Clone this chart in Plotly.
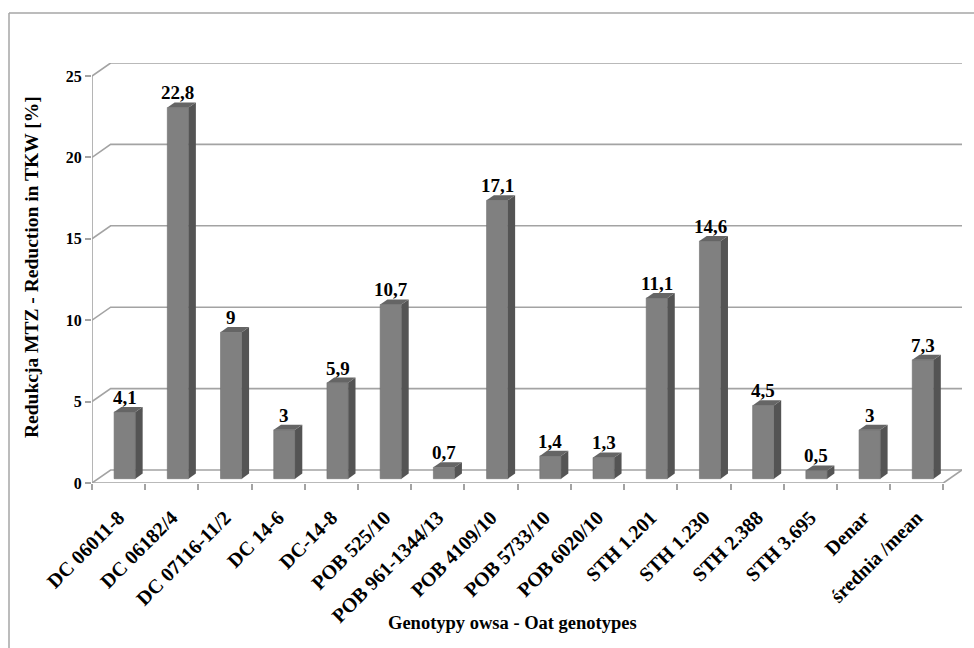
import plotly.graph_objects as go

# Oat genotypes and reduction in thousand-kernel weight (%)
genotypes = ["DC 06011-8", "DC 06182/4", "DC 07116-11/2", "DC 14-6", "DC-14-8",
             "POB 525/10", "POB 961-1344/13", "POB 4109/10", "POB 5733/10",
             "POB 6020/10", "STH 1.201", "STH 1.230", "STH 2.388", "STH 3.695",
             "Denar", "średnia /mean"]
reduction = [4.1, 22.8, 9, 3, 5.9, 10.7, 0.7, 17.1, 1.4, 1.3, 11.1, 14.6, 4.5, 0.5, 3, 7.3]
y_ticks = [0, 5, 10, 15, 20, 25]

FONT = "Times New Roman, Liberation Serif, serif"
GRID = "#a3a3a3"

# pseudo-3D projection: depth shifts points right (DX) and up (DY)
DX, DY = 0.35, 0.80
F0, F1 = 0.33, 0.72      # depth span of each column
BW = 0.40                # column width as fraction of a category

n = len(genotypes)
YMAX = max(y_ticks)

# margins in pixels
L, R, T, B = 92, 12, 63, 165
W, H = 974, 648
PW, PH = W - L - R, H - T - B


def paper_x(px):
    return (px - L) / PW


def paper_y(py):
    return (H - B - py) / PH


fig = go.Figure()


def poly(xs, ys, fill, line=None, width=0):
    fig.add_trace(go.Scatter(
        x=xs + [xs[0]], y=ys + [ys[0]], mode="lines", fill="toself",
        fillcolor=fill, line=dict(color=line or fill, width=width),
        hoverinfo="skip", showlegend=False))


def seg(xs, ys, color=GRID, width=1.6):
    fig.add_trace(go.Scatter(
        x=xs, y=ys, mode="lines", line=dict(color=color, width=width),
        hoverinfo="skip", showlegend=False, cliponaxis=False))


# back wall gridlines and side-wall diagonals
for v in y_ticks:
    seg([0, DX, n + DX], [v, v + DY, v + DY])

# floor front and right edges, value axis line
seg([0, n, n + DX], [0, 0, DY])
seg([0, 0], [0, YMAX])

# columns: front, side and top faces
for i, v in enumerate(reduction):
    xl = i + 0.5 - BW / 2 + F0 * DX
    xr = xl + BW
    y0 = F0 * DY
    ddx, ddy = (F1 - F0) * DX, (F1 - F0) * DY
    poly([xl, xr, xr, xl], [y0, y0, v + y0, v + y0], "#808080", "#6e6e6e", 0.6)
    poly([xr, xr + ddx, xr + ddx, xr], [y0, y0 + ddy, v + y0 + ddy, v + y0], "#545454")
    poly([xl, xr, xr + ddx, xl + ddx], [v + y0, v + y0, v + y0 + ddy, v + y0 + ddy], "#656565")

    label = f"{v:g}".replace(".", ",")
    fig.add_annotation(
        x=i + 0.5 + F0 * DX, y=v + F1 * DY, text=label, showarrow=False,
        xanchor="center", yanchor="bottom", yshift=-3,
        font=dict(family=FONT, size=19, color="#000", weight="bold"))

# axis titles
fig.add_annotation(
    x=paper_x(512), y=paper_y(623), xref="paper", yref="paper",
    text="Genotypy owsa - Oat genotypes", showarrow=False,
    xanchor="center", yanchor="middle",
    font=dict(family=FONT, size=18.5, color="#000", weight="bold"))
fig.add_annotation(
    x=paper_x(31), y=paper_y(267), xref="paper", yref="paper",
    text="Redukcja MTZ - Reduction in TKW [%]", showarrow=False, textangle=-90,
    xanchor="center", yanchor="middle",
    font=dict(family=FONT, size=19.5, color="#000", weight="bold"))

# chart area border (top and left edges are inside the page)
border = dict(color="#a6a6a6", width=1.5)
fig.add_shape(type="line", xref="paper", yref="paper",
              x0=paper_x(9), x1=paper_x(W + 5), y0=paper_y(13), y1=paper_y(13), line=border)
fig.add_shape(type="line", xref="paper", yref="paper",
              x0=paper_x(9), x1=paper_x(9), y0=paper_y(13), y1=paper_y(H + 5), line=border)

fig.update_layout(
    width=W, height=H, margin=dict(l=L, r=R, t=T, b=B),
    paper_bgcolor="white", plot_bgcolor="white",
    xaxis=dict(
        range=[0, n + DX], showgrid=False, zeroline=False, showline=False,
        tickmode="array", tickvals=[i + 0.5 for i in range(n)], ticktext=genotypes,
        tickangle=-45, ticks="outside", ticklen=14, tickcolor="rgba(0,0,0,0)",
        tickfont=dict(family=FONT, size=20, color="#000", weight="bold"),
        minor=dict(ticks="outside", tick0=0, dtick=1, ticklen=6, tickcolor=GRID,
                   tickwidth=1.5, showgrid=False),
        fixedrange=True),
    yaxis=dict(
        range=[0, YMAX + DY], showgrid=False, zeroline=False, showline=False,
        tickmode="array", tickvals=y_ticks, ticks="outside", ticklen=6,
        tickcolor=GRID, tickwidth=1.5,
        tickfont=dict(family=FONT, size=16, color="#000", weight="bold"),
        fixedrange=True),
    showlegend=False,
)

fig.write_html("out.html")
